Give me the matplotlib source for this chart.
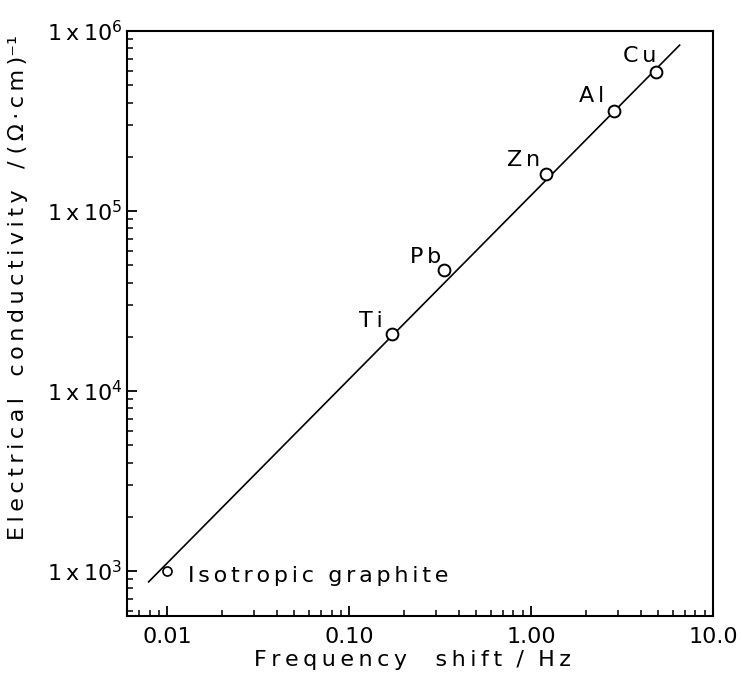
import matplotlib.pyplot as plt
import numpy as np

plt.rcParams['font.family'] = ['DejaVu Sans']
plt.rcParams['mathtext.fontset'] = 'dejavusans'

THIN = '\u2009'
SIXTH = '\u2006'


def spaced(s, sep=THIN, gap='   '):
    # 字母间加窄空格，模仿原图较宽的字距
    return gap.join(sep.join(w) for w in s.split(' '))


# 测量数据
metals = ['Isotropic graphite', 'Ti', 'Pb', 'Zn', 'Al', 'Cu']
freq_shift = [0.01, 0.172, 0.33, 1.21, 2.86, 4.86]          # Hz
conductivity = [1.0e3, 2.07e4, 4.7e4, 1.6e5, 3.59e5, 5.89e5]  # (Ω·cm)^-1

# 拟合直线两端
line_x = [0.0079, 6.55]
line_y = [8.7e2, 8.35e5]

# 标签偏移 (points) 与对齐
label_offsets = [(15, -8), (-15, 5), (-13, 5), (-16, 6), (-16.5, 6.5), (-12, 7.5)]
label_ha = ['left', 'center', 'center', 'center', 'center', 'center']

xticks = [0.01, 0.1, 1.0, 10.0]
xticklabels = ['0.01', '0.10', '1.00', '10.0']
yticks = [1e3, 1e4, 1e5, 1e6]
yticklabels = ['1' + THIN + 'x' + THIN + '10$^{%d}$' % p for p in (3, 4, 5, 6)]

fig = plt.figure(figsize=(7.42, 6.85), dpi=100)
ax = fig.add_axes([0.171, 0.1007, 0.790, 0.854])

ax.plot(line_x, line_y, color='black', linewidth=1.2, zorder=2)
ax.plot(freq_shift[1:], conductivity[1:], 'o', markersize=8.5, markerfacecolor='white',
        markeredgecolor='black', markeredgewidth=1.4, zorder=3)
ax.plot(freq_shift[:1], conductivity[:1], 'o', markersize=6.5, markerfacecolor='white',
        markeredgecolor='black', markeredgewidth=1.2, zorder=3)

for name, x, y, off, ha in zip(metals, freq_shift, conductivity, label_offsets, label_ha):
    ax.annotate(spaced(name, sep=SIXTH, gap='  '), (x, y), xytext=off,
                textcoords='offset points', ha=ha, va='baseline', fontsize=16)

ax.set_xscale('log')
ax.set_yscale('log')
ax.set_xlim(0.006, 10.0)
ax.set_ylim(562, 1e6)

ax.set_xticks(xticks)
ax.set_xticklabels(xticklabels)
ax.set_yticks(yticks)
ax.set_yticklabels(yticklabels)

ax.tick_params(which='both', direction='in', top=False, right=False, labelsize=16)
ax.tick_params(which='major', length=7, width=1.3)
ax.tick_params(which='minor', length=4.5, width=1.1)
ax.tick_params(axis='x', pad=8)
ax.tick_params(axis='y', pad=3)
for s in ax.spines.values():
    s.set_linewidth(1.5)

ax.set_xlabel(spaced('Frequency') + '    ' + spaced('shift') + '  /  ' + spaced('Hz'),
              fontsize=16)
ax.xaxis.set_label_coords(0.488, -0.058)
ax.set_ylabel(spaced('Electrical conductivity /') + ' ' + THIN.join('(Ω·cm)') + '⁻¹',
              fontsize=16)
ax.yaxis.set_label_coords(-0.169, 0.562)

fig.savefig('out.png', dpi=100)
